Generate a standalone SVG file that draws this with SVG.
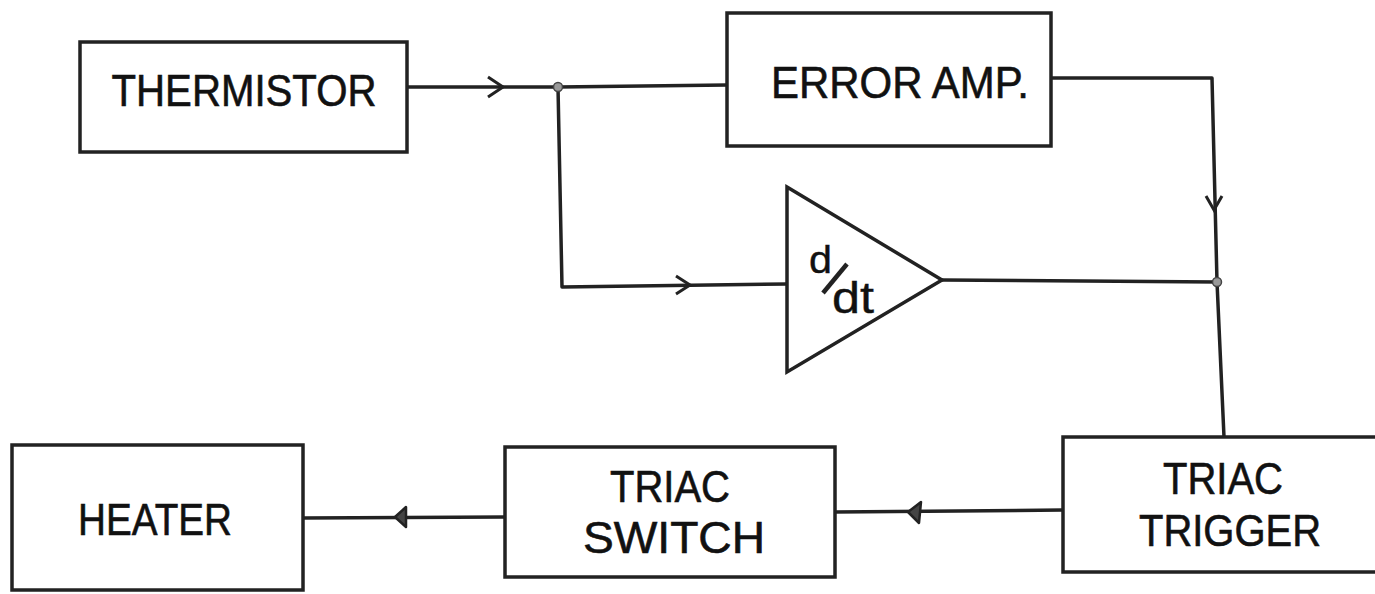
<svg xmlns="http://www.w3.org/2000/svg" width="1375" height="594" viewBox="0 0 1375 594">
<style>
.box{fill:#fff;stroke:#222;stroke-width:3.5}
.ln{fill:none;stroke:#222;stroke-width:3.5;stroke-linejoin:round}
.open{fill:none;stroke:#222;stroke-width:3}
.solid{fill:#444;stroke:#222;stroke-width:2.5;stroke-linejoin:round}
.dot{fill:#999;stroke:#444;stroke-width:1.5}
.t{font-family:"Liberation Sans",Arial,sans-serif;font-size:44px;fill:#111;text-anchor:middle;stroke:#111;stroke-width:0.6}
.dd{font-family:"Liberation Sans",Arial,sans-serif;fill:#111;stroke:#111;stroke-width:0.4}
</style>
<rect width="1375" height="594" fill="#fff"/>
<g id="connectors">
<path class="ln" d="M407 87 L558 87 L727 85"/>
<path class="ln" d="M558 87 L562 287 L787 284"/>
<path class="ln" d="M942 280 L1217 282"/>
<path class="ln" d="M1051 78 L1212 78 L1217 282 L1224 437"/>
<path class="ln" d="M1063 510 L835 512"/>
<path class="ln" d="M505 517 L303 518"/>
<path class="open" d="M488 77 L503 87 L488 97"/>
<path class="open" d="M676 276 L690 285 L676 294"/>
<path class="open" d="M1206 196 L1214 210 L1222 196"/>
<path class="solid" d="M395 517 L406 507 L406 527 Z"/>
<path class="solid" d="M908 512 L921 502 L919 523 Z"/>
<circle class="dot" cx="558" cy="87" r="4.5"/>
<circle class="dot" cx="1217" cy="282" r="4.5"/>
</g>
<g id="thermistor">
<rect class="box" x="80" y="42" width="327" height="110"/>
<text class="t" x="244" y="106" textLength="265" lengthAdjust="spacingAndGlyphs">THERMISTOR</text>
</g>
<g id="error-amp">
<rect class="box" x="727" y="13" width="324" height="133"/>
<text class="t" x="900" y="98" textLength="258" lengthAdjust="spacingAndGlyphs">ERROR AMP.</text>
</g>
<g id="differentiator">
<path class="box" d="M787 187 L942 280 L787 372 Z"/>
<text class="dd" x="809" y="273" font-size="39" textLength="23" lengthAdjust="spacingAndGlyphs">d</text>
<line x1="823" y1="293" x2="847" y2="264" stroke="#222" stroke-width="4.5"/>
<text class="dd" x="832" y="313" font-size="45" textLength="42" lengthAdjust="spacingAndGlyphs">dt</text>
</g>
<g id="triac-trigger">
<rect class="box" x="1063" y="437" width="318" height="135"/>
<text class="t" x="1223" y="494" textLength="120" lengthAdjust="spacingAndGlyphs">TRIAC</text>
<text class="t" x="1230" y="546" textLength="182" lengthAdjust="spacingAndGlyphs">TRIGGER</text>
</g>
<g id="triac-switch">
<rect class="box" x="505" y="447" width="330" height="130"/>
<text class="t" x="670" y="502" textLength="120" lengthAdjust="spacingAndGlyphs">TRIAC</text>
<text class="t" x="674" y="553" textLength="182" lengthAdjust="spacingAndGlyphs">SWITCH</text>
</g>
<g id="heater">
<rect class="box" x="12" y="445" width="291" height="145"/>
<text class="t" x="155" y="535" textLength="154" lengthAdjust="spacingAndGlyphs">HEATER</text>
</g>
</svg>
